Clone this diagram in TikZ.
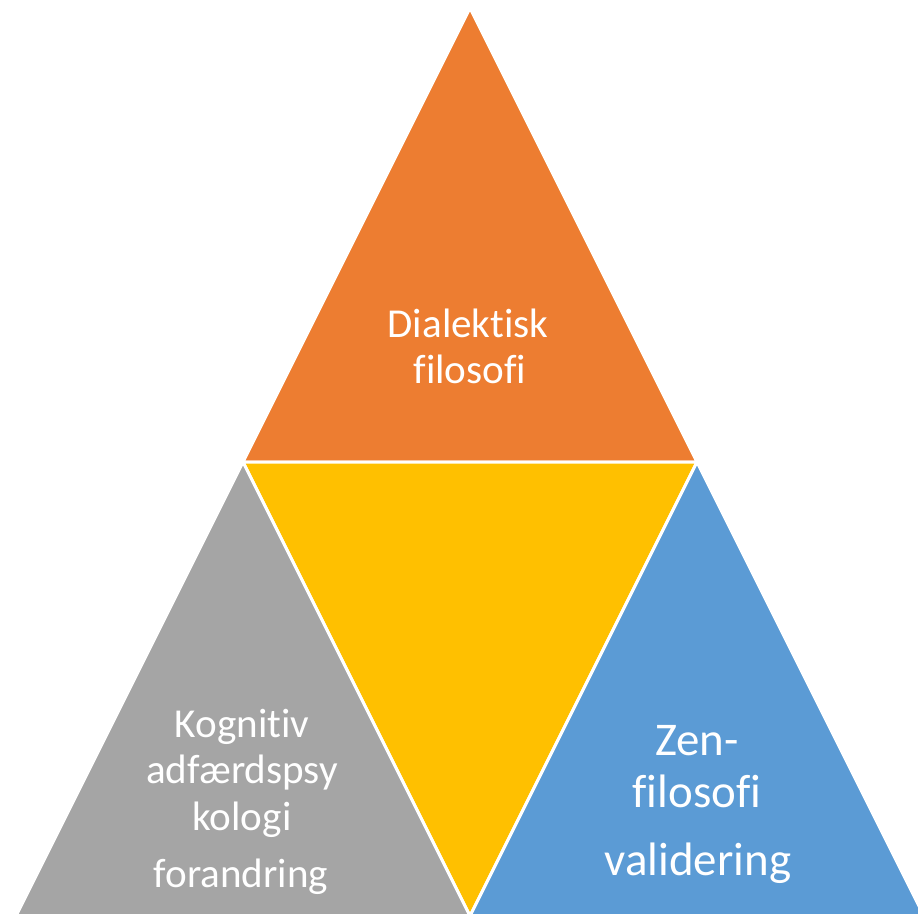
\documentclass[tikz,border=0pt]{standalone}
\usepackage{fontspec}
\setmainfont{Carlito}[Ligatures=NoCommon]
\usetikzlibrary{positioning}
\definecolor{dbtorange}{HTML}{ED7D31}
\definecolor{dbtyellow}{HTML}{FFC000}
\definecolor{dbtgray}{HTML}{A5A5A5}
\definecolor{dbtblue}{HTML}{5B9BD5}
\begin{document}
\begin{tikzpicture}[x=0.02cm,y=-0.02cm,
    tri/.style={draw=white,line width=1.7pt,line join=miter},
    lbl/.style={text=white,inner sep=0,anchor=base,font=\fontsize{23.4}{26}\selectfont},
    big/.style={lbl,font=\fontsize{26.7}{30}\selectfont}]
  \useasboundingbox (0,0) rectangle (918,913);
  \clip (0,0) rectangle (918,913);
  % the four triangles
  \coordinate (top) at (470,8);
  \coordinate (ml) at (243,462);
  \coordinate (mr) at (697,462);
  \coordinate (bl) at (16,916);
  \coordinate (bm) at (470,916);
  \coordinate (br) at (924,916);
  \fill[dbtorange,tri] (top) -- (ml) -- (mr) -- cycle;
  \fill[dbtyellow,tri] (ml) -- (mr) -- (bm) -- cycle;
  \fill[dbtgray,tri] (ml) -- (bl) -- (bm) -- cycle;
  \fill[dbtblue,tri] (mr) -- (bm) -- (br) -- cycle;
  % texts
  \node[lbl] (dial) at (468,337) {Dialektisk};
  \node[lbl] (dialfil) at (470,383) {filosofi};
  \node[lbl] (kog) at (242,737) {Kognitiv};
  \node[lbl] (adf) at (242,783) {adfærdspsy};
  \node[lbl] (kol) at (242,830) {kologi};
  \node[lbl] (forand) at (241,887) {forandring};
  \node[big] (zen) at (697,755) {Zen-};
  \node[big] (zenfil) at (697,807) {filosofi};
  \node[big] (valid) at (698,875) {validering};
\end{tikzpicture}
\end{document}
